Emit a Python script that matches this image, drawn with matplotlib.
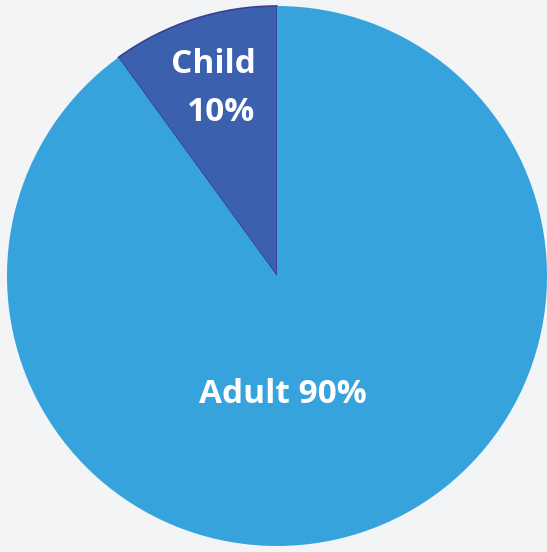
import numpy as np
import matplotlib.pyplot as plt

groups = ['Child', 'Adult']
shares = [10, 90]
colors = ['#3a60ae', '#37a3dc']

W, H = 547, 552
cx, cy, R = 277, 276, 270          # pie centre and radius in pixels

fig = plt.figure(figsize=(W / 100, H / 100), dpi=100)
fig.patch.set_facecolor('#f3f4f5')
ax = fig.add_axes([0, 0, 1, 1])

wedges, _ = ax.pie(shares, colors=colors, startangle=90, counterclock=True,
                   radius=1, center=(0, 0), frame=True,
                   wedgeprops=dict(linewidth=0))
wedges[0].set_edgecolor('#3a3f93')
wedges[0].set_linewidth(1.2)
ax.set_xlim(-cx / R, (W - cx) / R)
ax.set_ylim(-(H - cy) / R, cy / R)
ax.axis('off')

font = dict(family=['Open Sans', 'DejaVu Sans'], color='white', fontweight='bold',
            ha='center', va='center', fontsize=24)

# child label sits along the middle of its slice
mid = np.deg2rad(90 + shares[0] * 3.6 / 2)
lx, ly = 0.73 * np.cos(mid), 0.73 * np.sin(mid)
ax.text(lx - 0.01, ly + 0.09, groups[0], **font)
ax.text(lx + 0.02, ly - 0.09, f'{shares[0]}%', **font)

ax.text(0.02, -0.44, f'{groups[1]} {shares[1]}%', **font)

fig.savefig('out.png', dpi=100, facecolor=fig.get_facecolor())
